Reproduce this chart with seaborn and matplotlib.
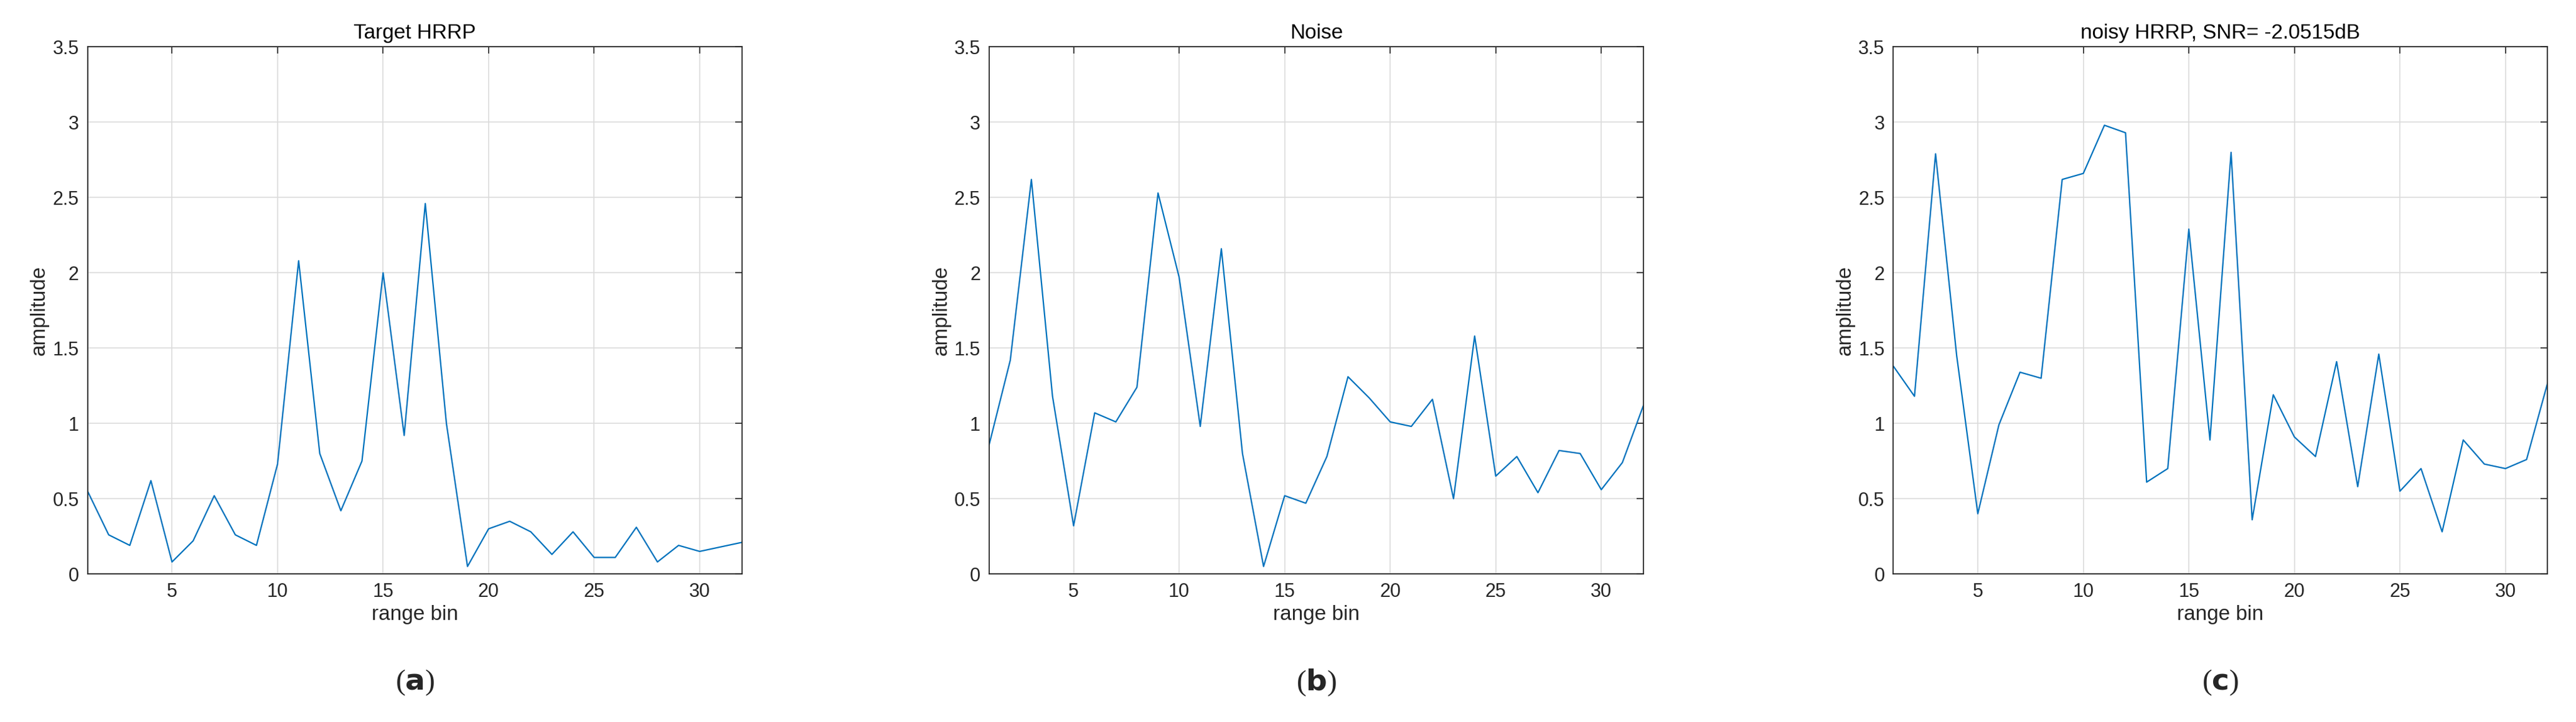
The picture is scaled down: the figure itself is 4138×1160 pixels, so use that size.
import numpy as np
import pandas as pd
import matplotlib
matplotlib.use("Agg")
import matplotlib.pyplot as plt
import seaborn as sns

bins = list(range(1, 33))
target = [0.55, 0.26, 0.19, 0.62, 0.08, 0.22, 0.52, 0.26, 0.19, 0.73, 2.08, 0.80, 0.42, 0.75, 2.00, 0.92,
          2.46, 1.00, 0.05, 0.30, 0.35, 0.28, 0.13, 0.28, 0.11, 0.11, 0.31, 0.08, 0.19, 0.15, 0.18, 0.21]
noise = [0.86, 1.42, 2.62, 1.18, 0.32, 1.07, 1.01, 1.24, 2.53, 1.97, 0.98, 2.16, 0.80, 0.05, 0.52, 0.47,
         0.78, 1.31, 1.17, 1.01, 0.98, 1.16, 0.50, 1.58, 0.65, 0.78, 0.54, 0.82, 0.80, 0.56, 0.74, 1.12]
noisy = [1.38, 1.18, 2.79, 1.45, 0.40, 0.99, 1.34, 1.30, 2.62, 2.66, 2.98, 2.93, 0.61, 0.70, 2.29, 0.89,
         2.80, 0.36, 1.19, 0.91, 0.78, 1.41, 0.58, 1.46, 0.55, 0.70, 0.28, 0.89, 0.73, 0.70, 0.76, 1.27]
titles = ["Target HRRP", "Noise", "noisy HRRP, SNR= -2.0515dB"]
panel_labels = ["a", "b", "c"]
xticks = [5, 10, 15, 20, 25, 30]
yticks = [0, 0.5, 1, 1.5, 2, 2.5, 3, 3.5]
yticklabels = ["0", "0.5", "1", "1.5", "2", "2.5", "3", "3.5"]

sns.set_style("white")
plt.rcParams['font.family'] = ['Liberation Sans', 'DejaVu Sans']

fig = plt.figure(figsize=(41.38, 11.6), dpi=100)
lefts = [0.034, 0.384, 0.735]
width = 0.254
bottom, height = 0.205, 0.73

for i, (vals, title, lab) in enumerate(zip([target, noise, noisy], titles, panel_labels)):
    ax = fig.add_axes([lefts[i], bottom, width, height])
    df = pd.DataFrame({"bin": bins, "amp": vals})
    sns.lineplot(data=df, x="bin", y="amp", ax=ax, color="#0072BD", linewidth=1.6)
    ax.set_xlim(1, 32)
    ax.set_ylim(0, 3.5)
    ax.set_xticks(xticks)
    ax.set_yticks(yticks)
    ax.set_yticklabels(yticklabels)
    ax.grid(True, color="#dcdcdc", linewidth=1.2)
    ax.tick_params(direction="in", top=True, right=True, length=8, width=1.2,
                   labelsize=22, colors="#262626", pad=10)
    for s in ax.spines.values():
        s.set_visible(True)
        s.set_color("#262626")
        s.set_linewidth(1.3)
    ax.set_xlabel("range bin", fontsize=24, color="#262626")
    ax.set_ylabel("amplitude", fontsize=24, color="#262626")
    ax.set_title(title, fontsize=24, color="#000000", pad=10)
    fig.text(lefts[i] + width / 2, 0.055, f"({lab})", ha="center", va="center",
             fontsize=34, family=["DejaVu Serif"], weight="bold")
    fig.texts[-1].set_text("")
    fig.text(lefts[i] + width / 2, 0.055, r"(" + r"$\mathbf{" + lab + r"}$" + ")", ha="center",
             va="center", fontsize=34, family=["Liberation Serif", "DejaVu Serif"])

fig.savefig("out.png", dpi=100)
